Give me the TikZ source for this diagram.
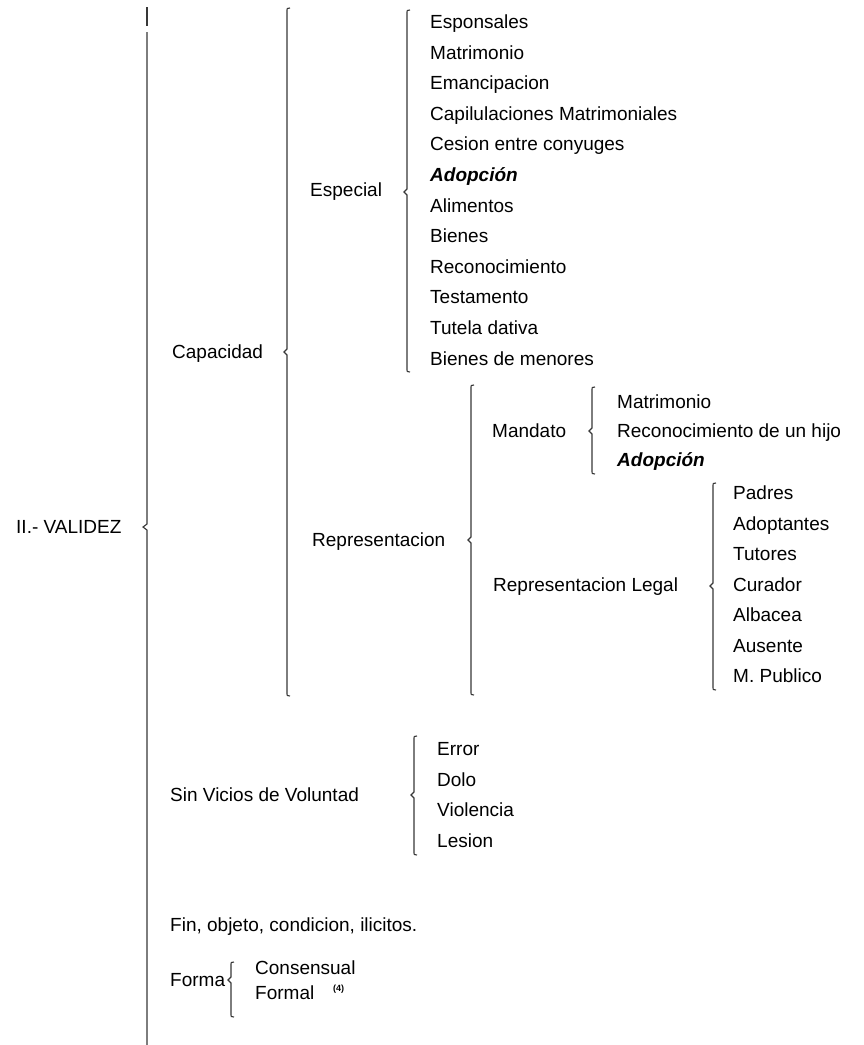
\documentclass[tikz,border=0pt]{standalone}
\usepackage{fontspec}
\setmainfont{Liberation Sans}
\begin{document}
\begin{tikzpicture}[x=1pt,y=-1pt]
\tikzset{
  lbl/.style={anchor=base west, inner sep=0pt, font=\fontsize{19}{23}\selectfont},
  bi/.style={lbl, font=\fontsize{19}{23}\selectfont\bfseries\itshape},
  brc/.style={line width=1.1pt, black!78, line join=miter},
}
\newcommand{\drawbrace}[4]{%
  \draw[brc] (#1+3,#2) .. controls (#1,#2) .. (#1,#2+4) -- (#1,#4-3) -- (#1-3,#4) -- (#1,#4+3) -- (#1,#3-4) .. controls (#1,#3) .. (#1+3,#3);
}
\useasboundingbox (0,0) rectangle (863,1045);
\fill[white] (0,0) rectangle (863,1045);
% main brace
\coordinate (mtop) at (147,7);
\coordinate (mbot) at (147,1045);
\draw[brc] (mtop) -- (147,26);
\draw[brc] (147,32) -- (147,524) -- (143,527) -- (147,530) -- (mbot);
\node[lbl] (val) at (16,533.5) {II.- VALIDEZ};
% Capacidad
\node[lbl] (cap) at (172,358.5) {Capacidad};
\drawbrace{287}{8}{696}{352}
% Especial
\node[lbl] (esp) at (310,196.5) {Especial};
\drawbrace{407}{10}{372}{192}
\foreach \t [count=\i from 0] in {Esponsales,Matrimonio,Emancipacion,Capilulaciones Matrimoniales,Cesion entre conyuges,{\bfseries\itshape Adopción},Alimentos,Bienes,Reconocimiento,Testamento,Tutela dativa,Bienes de menores}{
  \node[lbl] (e\i) at (430,{28.5+30.6*\i}) {\t};
}
% Representacion
\node[lbl] (rep) at (312,546.5) {Representacion};
\drawbrace{471}{385}{695}{540}
% Mandato
\node[lbl] (man) at (492,437.5) {Mandato};
\drawbrace{592}{387}{474}{431}
\node[lbl] (m1) at (617,408.5) {Matrimonio};
\node[lbl] (m2) at (617,437.5) {Reconocimiento de un hijo};
\node[bi] (m3) at (617,466.5) {Adopción};
% Representacion Legal
\node[lbl] (rl) at (493,591.5) {Representacion Legal};
\drawbrace{713}{483}{690}{586}
\foreach \t [count=\i from 0] in {Padres,Adoptantes,Tutores,Curador,Albacea,Ausente,M. Publico}{
  \node[lbl] (r\i) at (733,{499.5+30.5*\i}) {\t};
}
% Sin vicios
\node[lbl] (sv) at (170,801.5) {Sin Vicios de Voluntad};
\drawbrace{414}{736}{855}{795}
\foreach \t [count=\i from 0] in {Error,Dolo,Violencia,Lesion}{
  \node[lbl] (v\i) at (437,{755.5+30.5*\i}) {\t};
}
% Fin
\node[lbl] (fin) at (170,931.5) {Fin, objeto, condicion, ilicitos.};
% Forma
\node[lbl] (for) at (170,986.5) {Forma};
\drawbrace{231}{962}{1017}{980}
\node[lbl] (f1) at (255,974.5) {Consensual};
\node[lbl] (f2) at (255,999.5) {Formal};
\node[anchor=base west, inner sep=0pt, font=\fontsize{9}{10}\selectfont\bfseries] (f3) at (333,991) {(4)};
\end{tikzpicture}
\end{document}
